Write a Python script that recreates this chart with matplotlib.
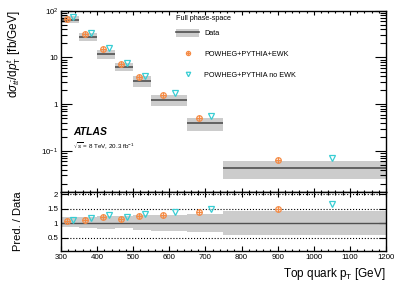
import numpy as np
import matplotlib
matplotlib.use('Agg')
import matplotlib.pyplot as plt
from matplotlib.patches import Patch
from matplotlib.lines import Line2D
from matplotlib.ticker import FixedLocator, MultipleLocator, LogLocator, NullFormatter, FixedFormatter

plt.rcParams['font.family'] = ['Liberation Sans', 'DejaVu Sans']
plt.rcParams['mathtext.fontset'] = 'custom'
plt.rcParams['mathtext.rm'] = 'Liberation Sans'
plt.rcParams['mathtext.it'] = 'Liberation Sans:italic'
plt.rcParams['mathtext.bf'] = 'Liberation Sans:bold'

# bin edges in top quark pT [GeV]
bin_lo = [300, 350, 400, 450, 500, 550, 650, 750]
bin_hi = [350, 400, 450, 500, 550, 650, 750, 1200]

# measured cross section [fb/GeV] and relative uncertainty band
data = [63, 27.7, 11.8, 6.3, 3.16, 1.25, 0.39, 0.043]
rel_up = [1.21, 1.20, 1.25, 1.23, 1.28, 1.29, 1.33, 1.43]
rel_dn = [0.85, 0.83, 0.79, 0.82, 0.75, 0.74, 0.69, 0.60]

# predictions
pred_ewk = [67, 31.6, 14.9, 7.1, 3.8, 1.56, 0.52, 0.064]
pred_noewk = [72, 34, 16, 7.8, 4.1, 1.7, 0.56, 0.07]
ratio_ewk = [1.07, 1.12, 1.20, 1.15, 1.23, 1.27, 1.37, 1.50]
ratio_noewk = [1.11, 1.18, 1.28, 1.22, 1.32, 1.37, 1.49, 1.67]

lo = np.array(bin_lo)
hi = np.array(bin_hi)
width = hi - lo
x_ewk = lo + width / 3.0
x_noewk = lo + 2.0 * width / 3.0
d = np.array(data)
up = np.array(rel_up)
dn = np.array(rel_dn)

band_col = '#cccccc'
line_col = '#505050'
orange = '#f58b45'
cyan = '#38cdd3'


def draw_preds(a, ye, yn):
    a.plot(x_ewk, ye, 'o', ms=4, mfc='none', mec=orange, mew=0.9, zorder=5)
    a.plot(x_ewk, ye, '+', ms=4, mec=orange, mew=0.9, zorder=5)
    a.plot(x_noewk, yn, 'v', ms=4.3, mfc='none', mec=cyan, mew=0.9, zorder=5)


fig = plt.figure(figsize=(4.07, 2.92), dpi=100)
ax = fig.add_axes([61 / 407, 1 - 192 / 292, 325 / 407, 181.3 / 292])
rax = fig.add_axes([61 / 407, 1 - 251 / 292, 325 / 407, 59 / 292])

# main panel
ax.bar(lo, d * (up - dn), bottom=d * dn, width=width, align='edge', color=band_col, linewidth=0)
ax.hlines(d, lo, hi, color=line_col, linewidth=1.2)
draw_preds(ax, pred_ewk, pred_noewk)

ax.set_yscale('log')
ax.set_xlim(300, 1200)
ax.set_ylim(0.0133, 100)
ax.yaxis.set_major_locator(FixedLocator([0.1, 1, 10, 100]))
ax.yaxis.set_major_formatter(FixedFormatter(['$10^{-1}$', '1', '10', '$10^{2}$']))
ax.yaxis.set_minor_locator(LogLocator(base=10, subs=np.arange(2, 10)))
ax.yaxis.set_minor_formatter(NullFormatter())
ax.xaxis.set_major_locator(MultipleLocator(100))
ax.xaxis.set_minor_locator(MultipleLocator(20))
ax.tick_params(axis='both', which='both', direction='in', top=True, right=True,
               labelbottom=False, labelsize=5.7, width=0.8, pad=2)
ax.tick_params(axis='x', which='major', length=3)
ax.tick_params(axis='x', which='minor', length=1.5)
ax.tick_params(axis='y', which='major', length=8)
ax.tick_params(axis='y', which='minor', length=4)
ax.set_ylabel(r'$\mathrm{d}\sigma_{t\bar{t}}/\mathrm{d}p^{t}_{\mathrm{T}}$ [fb/GeV]',
              fontsize=8.5, loc='top')
ax.yaxis.set_label_coords(-0.118, 1.0)

ax.text(0.037, 0.333, 'ATLAS', transform=ax.transAxes, fontsize=7.5,
        fontweight='bold', fontstyle='italic', va='center')
ax.text(0.037, 0.254, r'$\sqrt{s}$ = 8 TeV, 20.3 fb$^{-1}$', transform=ax.transAxes,
        fontsize=4.5, va='center')

# legend
fig.text(176 / 407, 1 - 19 / 292, 'Full phase-space', fontsize=5.2, va='center', ha='left')
handles = [(Patch(facecolor=band_col, edgecolor='none'), Line2D([], [], color=line_col, lw=1.2)),
           (Line2D([], [], ls='none', marker='o', ms=3, mfc='none', mec=orange, mew=0.9),
            Line2D([], [], ls='none', marker='+', ms=3, mec=orange, mew=0.9)),
           Line2D([], [], ls='none', marker='v', ms=3.2, mfc='none', mec=cyan, mew=0.9)]
labels = ['Data', 'POWHEG+PYTHIA+EWK', 'POWHEG+PYTHIA no EWK']
leg = ax.legend(handles, labels, loc='upper left',
                bbox_to_anchor=(176 / 407, 1 - 29 / 292), bbox_transform=fig.transFigure,
                frameon=False, fontsize=5.2,
                borderpad=0, borderaxespad=0, handlelength=3.2, handleheight=1.3,
                handletextpad=0.7, labelspacing=1.75)

# ratio panel
rax.bar(lo, up - dn, bottom=dn, width=width, align='edge', color=band_col, linewidth=0)
rax.axhline(1.0, color=line_col, linewidth=1.0)
for yv in [0.5, 1.5, 2.0]:
    rax.axhline(yv, color='black', linestyle=':', linewidth=0.8)
draw_preds(rax, ratio_ewk, ratio_noewk)

rax.set_xlim(300, 1200)
rax.set_ylim(0.04, 2.07)
rax.yaxis.set_major_locator(FixedLocator([0.5, 1.0, 1.5, 2.0]))
rax.yaxis.set_major_formatter(FixedFormatter(['0.5', '1', '1.5', '2']))
rax.xaxis.set_major_locator(MultipleLocator(100))
rax.xaxis.set_minor_locator(MultipleLocator(20))
rax.tick_params(axis='both', which='both', direction='in', top=True, right=True,
                labelsize=5.7, width=0.8, pad=2)
rax.tick_params(axis='x', which='major', length=3.5)
rax.tick_params(axis='x', which='minor', length=1.8)
rax.tick_params(axis='y', which='major', length=5)
rax.set_ylabel('Pred. / Data', fontsize=8)
rax.yaxis.set_label_coords(-0.118, 0.5)
rax.set_xlabel(r'Top quark p$_{\mathrm{T}}$ [GeV]', fontsize=8.5, loc='right', labelpad=4)

for a in (ax, rax):
    for s in a.spines.values():
        s.set_linewidth(1.0)

fig.savefig('out.png', dpi=100)
